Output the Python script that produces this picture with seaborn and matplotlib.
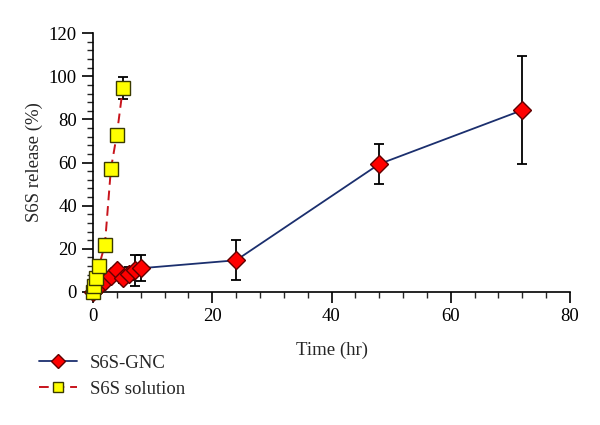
import numpy as np
import pandas as pd
import matplotlib
matplotlib.use("Agg")
import matplotlib.pyplot as plt
import seaborn as sns

# S6S-GNC
gnc_time = [0, 0.5, 1, 2, 3, 4, 5, 6, 7, 8, 24, 48, 72]
gnc_release = [0, 1.5, 3, 5, 7.5, 10, 6.3, 8.5, 10, 11, 14.7, 59.3, 84.3]
gnc_err = [0.5, 0.5, 1, 1, 1.5, 1.5, 2, 3, 7, 6, 9.3, 9.3, 25]

# S6S solution
sol_time = [0, 0.25, 0.5, 1, 2, 3, 4, 5]
sol_release = [0, 3, 6.5, 12, 22, 57, 73, 94.5]
sol_err = [0.5, 0.5, 1, 1, 1.5, 1.5, 2.5, 5]

sns.set_style("ticks")
plt.rcParams['font.family'] = ['Liberation Serif', 'DejaVu Serif']
plt.rcParams['font.size'] = 13

fig = plt.figure(figsize=(6, 4.25), dpi=100)
ax = fig.add_axes([0.155, 0.313, 0.795, 0.609])

gnc = pd.DataFrame({"t": gnc_time, "r": gnc_release})
sol = pd.DataFrame({"t": sol_time, "r": sol_release})

ax.errorbar(gnc_time, gnc_release, yerr=gnc_err, fmt='none', ecolor='black',
            elinewidth=1.3, capsize=3.5, capthick=1.3, zorder=2, clip_on=False)
sns.lineplot(data=gnc, x="t", y="r", ax=ax, color="#1b2f6e", linewidth=1.3,
             marker='D', markersize=9.5, markerfacecolor='#ff0000',
             markeredgecolor='#600000', markeredgewidth=1.0, zorder=3,
             clip_on=False, label="S6S-GNC", legend=False)

ax.errorbar(sol_time, sol_release, yerr=sol_err, fmt='none', ecolor='black',
            elinewidth=1.3, capsize=3.5, capthick=1.3, zorder=4, clip_on=False)
sns.lineplot(data=sol, x="t", y="r", ax=ax, color="#c8141c", linewidth=1.4,
             linestyle=(0, (5, 3)), marker='s', markersize=10,
             markerfacecolor='#ffff00', markeredgecolor='#3a3a00',
             markeredgewidth=1.0, zorder=5, clip_on=False,
             label="S6S solution", legend=False)

ax.set_xlim(0, 80)
ax.set_ylim(0, 120)
ax.set_xticks([0, 20, 40, 60, 80])
ax.set_yticks([0, 20, 40, 60, 80, 100, 120])
ax.set_xticks(np.arange(0, 81, 4), minor=True)
ax.set_yticks(np.arange(0, 121, 4), minor=True)
ax.tick_params(axis='both', which='major', direction='out', length=8, width=1.2,
               labelsize=13.5, colors='black')
ax.tick_params(axis='both', which='minor', direction='out', length=4, width=1.0)
for s in ['top', 'right']:
    ax.spines[s].set_visible(False)
for s in ['left', 'bottom']:
    ax.spines[s].set_linewidth(1.2)
    ax.spines[s].set_color('black')

ax.set_xlabel("Time (hr)", fontsize=13.5, labelpad=12)
ax.set_ylabel("S6S release (%)", fontsize=13.5, labelpad=4)

handles, labels = ax.get_legend_handles_labels()
fig.legend(handles, labels, loc='upper left', bbox_to_anchor=(0.065, 0.165),
           frameon=False, fontsize=13.5, handlelength=2.0, handletextpad=0.7,
           labelspacing=0.45, borderpad=0, borderaxespad=0, markerscale=0.75)

fig.savefig("out.png", dpi=100)
